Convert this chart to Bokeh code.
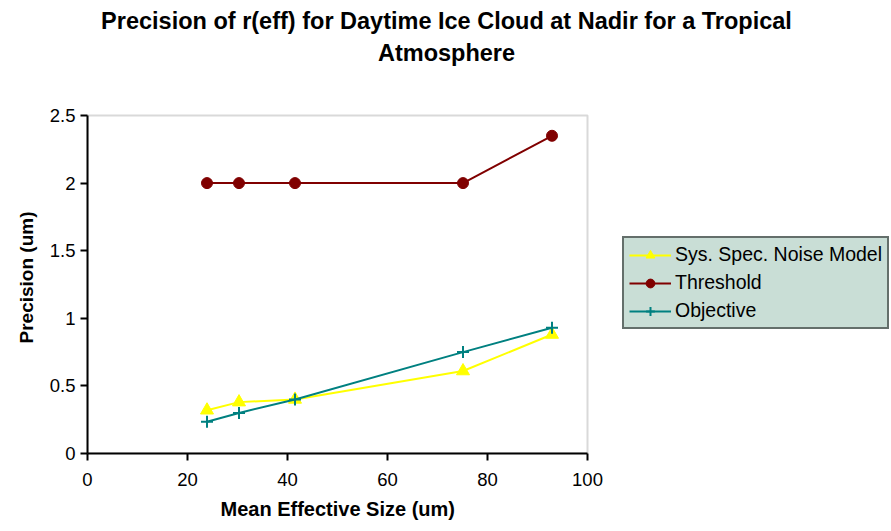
from bokeh.plotting import figure
from bokeh.models import (FixedTicker, Legend, LegendItem, Label, Range1d, Title,
                          CustomJSTickFormatter, BoxAnnotation)
from bokeh.embed import file_html
from bokeh.resources import INLINE

x_vals = [23.9, 30.3, 41.5, 75.1, 92.9]
noise_model = [0.32, 0.38, 0.40, 0.61, 0.88]
threshold = [2.0, 2.0, 2.0, 2.0, 2.35]
objective = [0.235, 0.30, 0.40, 0.75, 0.93]
series_names = ["Sys. Spec. Noise Model", "Threshold", "Objective"]
title_lines = ["Precision of r(eff) for Daytime Ice Cloud at Nadir for a Tropical", "Atmosphere"]
x_label = "Mean Effective Size (um)"
y_label = "Precision (um)"
x_ticks = [0, 20, 40, 60, 80, 100]
y_ticks = [0, 0.5, 1, 1.5, 2, 2.5]
x_bounds = (0, 100)
y_bounds = (0, 2.5)

FONT = "Liberation Sans"
W, H = 891, 531
LEFT, BOTTOM = 87, 78
PLOT_W, PLOT_H = 500, 338           # pixel size of the axes box
FRAME_W, FRAME_H = W - LEFT, H - BOTTOM

# frame spans up to the top/right edge so title + legend can live inside it
x_end = x_bounds[1] * FRAME_W / PLOT_W
y_end = y_bounds[1] * FRAME_H / PLOT_H

p = figure(width=W, height=H, output_backend="svg", toolbar_location=None,
           x_range=Range1d(0, x_end), y_range=Range1d(0, y_end),
           min_border_left=LEFT, min_border_right=0, min_border_top=0, min_border_bottom=BOTTOM)
p.title_location = None
p.background_fill_color = "white"
p.border_fill_color = "white"
p.outline_line_color = None
p.grid.visible = False

box = BoxAnnotation(left=x_bounds[0], right=x_bounds[1], bottom=y_bounds[0], top=y_bounds[1],
                    fill_color=None, line_color="#808080", line_width=2, level="underlay")
p.add_layout(box)

p.xaxis.ticker = FixedTicker(ticks=x_ticks)
p.yaxis.ticker = FixedTicker(ticks=y_ticks)
p.xaxis.bounds = x_bounds
p.yaxis.bounds = y_bounds
p.yaxis.formatter = CustomJSTickFormatter(code="return String(tick);")
for ax in (p.xaxis[0], p.yaxis[0]):
    ax.axis_line_color = "black"
    ax.axis_line_width = 2
    ax.major_tick_line_color = "black"
    ax.major_tick_line_width = 2
    ax.major_tick_in = 0
    ax.major_tick_out = 7
    ax.minor_tick_line_color = None
    ax.major_label_text_font = FONT
    ax.major_label_text_font_size = "18.5px"
    ax.major_label_text_color = "black"
p.xaxis.major_label_standoff = 12
p.yaxis.major_label_standoff = 5

# axis titles centred on the axes box (not on the wider frame)
xt = Title(text=x_label, align="left", offset=133, standoff=14,
           text_font=FONT, text_font_size="20px", text_font_style="bold", text_color="black")
p.add_layout(xt, "below")
yt = Title(text=y_label, align="left", offset=110, standoff=20,
           text_font=FONT, text_font_size="19px", text_font_style="bold", text_color="black")
p.add_layout(yt, "left")

l1 = p.line(x_vals, noise_model, line_color="#FFFF00", line_width=2)
m1 = p.scatter(x_vals, noise_model, marker="triangle", size=13, fill_color="#FFFF00", line_color="#FFFF00")
l2 = p.line(x_vals, threshold, line_color="#800000", line_width=2)
m2 = p.scatter(x_vals, threshold, marker="circle", size=11, fill_color="#800000", line_color="#800000")
l3 = p.line(x_vals, objective, line_color="#008080", line_width=2)
m3 = p.scatter(x_vals, objective, marker="cross", size=12, line_color="#008080", line_width=2)

legend = Legend(items=[LegendItem(label=series_names[0], renderers=[l1, m1]),
                       LegendItem(label=series_names[1], renderers=[l2, m2]),
                       LegendItem(label=series_names[2], renderers=[l3, m3])],
                location=(535, 124))
legend.background_fill_color = "#C9DED6"
legend.background_fill_alpha = 1
legend.border_line_color = "black"
legend.border_line_width = 2
legend.label_text_font = FONT
legend.label_text_font_size = "19.5px"
legend.label_text_color = "black"
legend.glyph_width = 42
legend.glyph_height = 22
legend.spacing = 5
legend.padding = 5
legend.margin = 0
legend.label_standoff = 4
p.add_layout(legend, "center")

for text, ypos in zip(title_lines, (FRAME_H - 20, FRAME_H - 52)):
    p.add_layout(Label(x=359, y=ypos, x_units="screen", y_units="screen", text=text,
                       text_align="center", text_baseline="middle", text_font=FONT,
                       text_font_size="23.5px", text_font_style="bold", text_color="black"))

open("out.html", "w").write(file_html(p, INLINE))
